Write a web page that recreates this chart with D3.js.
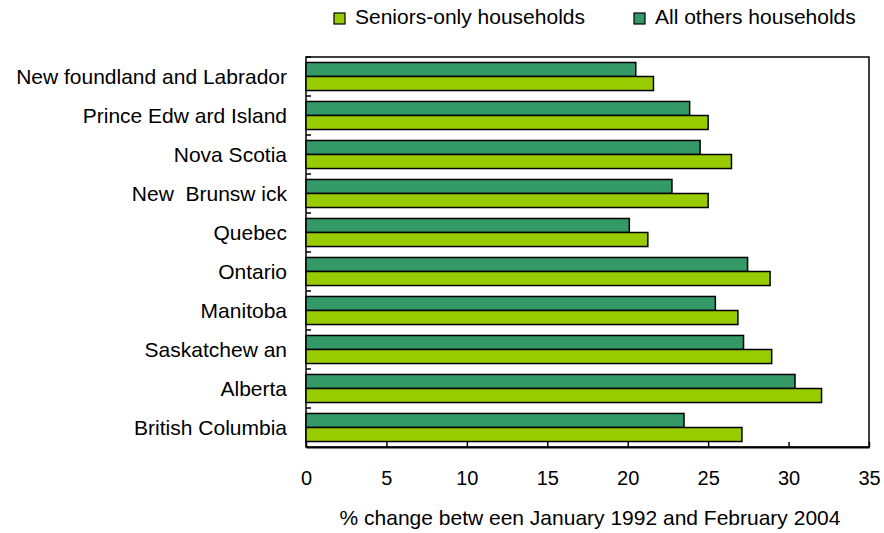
<!DOCTYPE html>
<html>
<head>
<meta charset="utf-8">
<script src="https://cdn.jsdelivr.net/npm/d3@7"></script>
<style>
  body { margin: 0; background: #fff; }
  text { font-family: "Liberation Sans", Arial, sans-serif; fill: #000; }
</style>
</head>
<body>
<div id="chart"></div>
<script>
// provinces, top to bottom (labels as printed in the source)
var provinces = ['New foundland and Labrador', 'Prince Edw ard Island', 'Nova Scotia', 'New  Brunsw ick',
  'Quebec', 'Ontario', 'Manitoba', 'Saskatchew an', 'Alberta', 'British Columbia'];
var othersValues = [20.5, 23.85, 24.5, 22.75, 20.1, 27.45, 25.45, 27.2, 30.4, 23.5];
var seniorsValues = [21.6, 25.0, 26.45, 25.0, 21.25, 28.85, 26.85, 28.95, 32.05, 27.1];
var seriesNames = ['Seniors-only households', 'All others households'];
var seriesColors = ['#99cc00', '#339966'];
var xTicks = [0, 5, 10, 15, 20, 25, 30, 35];
var xTitle = '% change betw een January 1992 and February 2004';

var W = 884, H = 533;
var mLeft = 306, mRight = 869, mTop = 57, mBottom = 447;

var svg = d3.select('#chart').append('svg')
  .attr('width', W).attr('height', H);

var x = d3.scaleLinear().domain([0, 35]).range([mLeft, mRight]);
var y = d3.scaleBand().domain(provinces).range([mTop, mBottom]);
var inner = d3.scaleBand().domain(['others', 'seniors'])
  .range([0, y.bandwidth()]).paddingOuter(0.39).paddingInner(0);

var rows = provinces.map(function(p, i) {
  return {name: p, others: othersValues[i], seniors: seniorsValues[i]};
});

// frame
svg.append('rect')
  .attr('x', mLeft).attr('y', mTop)
  .attr('width', mRight - mLeft).attr('height', mBottom - mTop)
  .attr('fill', 'none').attr('stroke', '#000').attr('stroke-width', 1.5);

var g = svg.selectAll('.prov').data(rows).enter().append('g')
  .attr('transform', function(d) { return 'translate(0,' + y(d.name) + ')'; });

g.append('rect')
  .attr('x', x(0))
  .attr('y', inner('others'))
  .attr('width', function(d) { return x(d.others) - x(0); })
  .attr('height', inner.bandwidth())
  .attr('fill', seriesColors[1]).attr('stroke', '#000').attr('stroke-width', 1.5);

g.append('rect')
  .attr('x', x(0))
  .attr('y', inner('seniors'))
  .attr('width', function(d) { return x(d.seniors) - x(0); })
  .attr('height', inner.bandwidth())
  .attr('fill', seriesColors[0]).attr('stroke', '#000').attr('stroke-width', 1.5);

// category labels
svg.selectAll('.lab').data(provinces).enter().append('text')
  .attr('x', 287)
  .attr('y', function(d) { return y(d) + y.bandwidth() / 2 + 7; })
  .attr('text-anchor', 'end')
  .attr('font-size', '21px')
  .style('white-space', 'pre')
  .text(function(d) { return d; });

// left ticks at band boundaries (inward)
svg.selectAll('.ytick').data(provinces).enter().append('line')
  .attr('x1', mLeft).attr('x2', mLeft + 5)
  .attr('y1', function(d) { return y(d); })
  .attr('y2', function(d) { return y(d); })
  .attr('stroke', '#000').attr('stroke-width', 1.5);

// bottom axis
var xAxis = d3.axisBottom(x).tickValues(xTicks).tickSizeInner(-5).tickSizeOuter(0).tickPadding(24);
var ax = svg.append('g').attr('transform', 'translate(0,' + mBottom + ')').call(xAxis);
ax.select('.domain').attr('stroke-width', 2);
ax.selectAll('.tick line').attr('stroke-width', 1.5);
ax.selectAll('.tick text').attr('font-size', '20px')
  .attr('font-family', '"Liberation Sans", Arial, sans-serif').attr('fill', '#000');

svg.append('text')
  .attr('x', 590).attr('y', 525)
  .attr('text-anchor', 'middle')
  .attr('font-size', '21px')
  .text(xTitle);

// legend
var legX = [334, 634];
var leg = svg.selectAll('.leg').data(seriesNames).enter().append('g')
  .attr('transform', function(d, i) { return 'translate(' + legX[i] + ',13)'; });
leg.append('rect')
  .attr('width', 11).attr('height', 11)
  .attr('fill', function(d, i) { return seriesColors[i]; })
  .attr('stroke', '#000').attr('stroke-width', 1.2);
leg.append('text')
  .attr('x', 21).attr('y', 11)
  .attr('font-size', '21px')
  .text(function(d) { return d; });
</script>
</body>
</html>
